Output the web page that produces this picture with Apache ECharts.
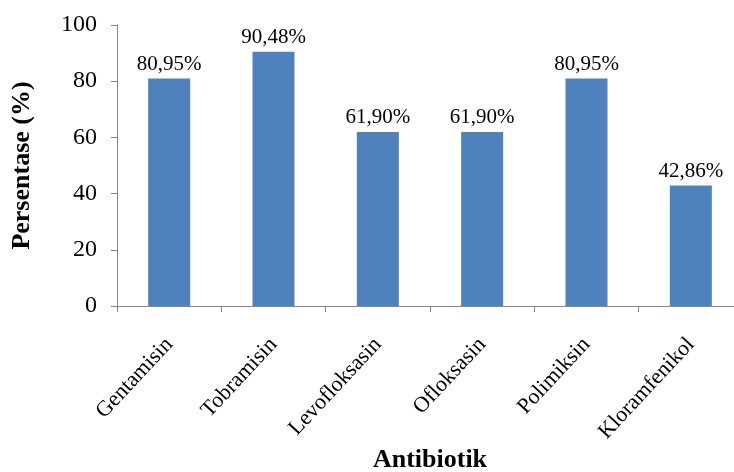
<!DOCTYPE html>
<html>
<head>
<meta charset="utf-8">
<script src="https://cdn.jsdelivr.net/npm/echarts@6/dist/echarts.min.js"></script>
<style>
  html, body { margin: 0; padding: 0; background: #ffffff; }
  #chart { width: 734px; height: 472px; }
</style>
</head>
<body>
<div id="chart"></div>
<script>
// Antibiotic categories and the percentage for each
const categories = ['Gentamisin', 'Tobramisin', 'Levofloksasin', 'Ofloksasin', 'Polimiksin', 'Kloramfenikol'];
const percentages = [80.95, 90.48, 61.90, 61.90, 80.95, 42.86];
const yTicks = [0, 20, 40, 60, 80, 100];

const serif = '"Liberation Serif", "Times New Roman", serif';
const axisGray = '#868686';

const chart = echarts.init(document.getElementById('chart'), null, { renderer: 'canvas' });

chart.setOption({
  backgroundColor: '#ffffff',
  animation: false,
  grid: {
    left: 117, right: -9, top: 25, bottom: 166,
    containLabel: false,
    outerBoundsMode: 'none'
  },
  xAxis: {
    type: 'category',
    data: categories,
    name: 'Antibiotik',
    nameLocation: 'middle',
    nameGap: 141,
    nameMoveOverlap: false,
    nameTextStyle: { fontFamily: serif, fontSize: 26, fontWeight: 'bold', color: '#000' },
    axisLine: { lineStyle: { color: axisGray, width: 1 } },
    axisTick: { show: true, alignWithLabel: false, length: 6, lineStyle: { color: axisGray } },
    axisLabel: {
      rotate: 47,
      margin: 35,
      fontFamily: serif,
      fontSize: 22,
      color: '#000'
    },
    splitLine: { show: false }
  },
  yAxis: {
    type: 'value',
    min: yTicks[0],
    max: yTicks[yTicks.length - 1],
    interval: yTicks[1] - yTicks[0],
    name: 'Persentase (%)',
    nameLocation: 'middle',
    nameGap: 82,
    nameMoveOverlap: false,
    nameTextStyle: { fontFamily: serif, fontSize: 26, fontWeight: 'bold', color: '#000' },
    axisLine: { show: true, lineStyle: { color: axisGray, width: 1 } },
    axisTick: { show: true, length: 6, lineStyle: { color: axisGray } },
    axisLabel: { margin: 20, fontFamily: serif, fontSize: 24, color: '#000' },
    splitLine: { show: false }
  },
  series: [{
    type: 'bar',
    data: percentages,
    barWidth: 42,
    itemStyle: { color: '#4F81BD' },
    label: {
      show: true,
      position: 'top',
      distance: 4,
      fontFamily: serif,
      fontSize: 21,
      color: '#000',
      formatter: p => p.value.toFixed(2).replace('.', ',') + '%'
    }
  }]
});
</script>
</body>
</html>
